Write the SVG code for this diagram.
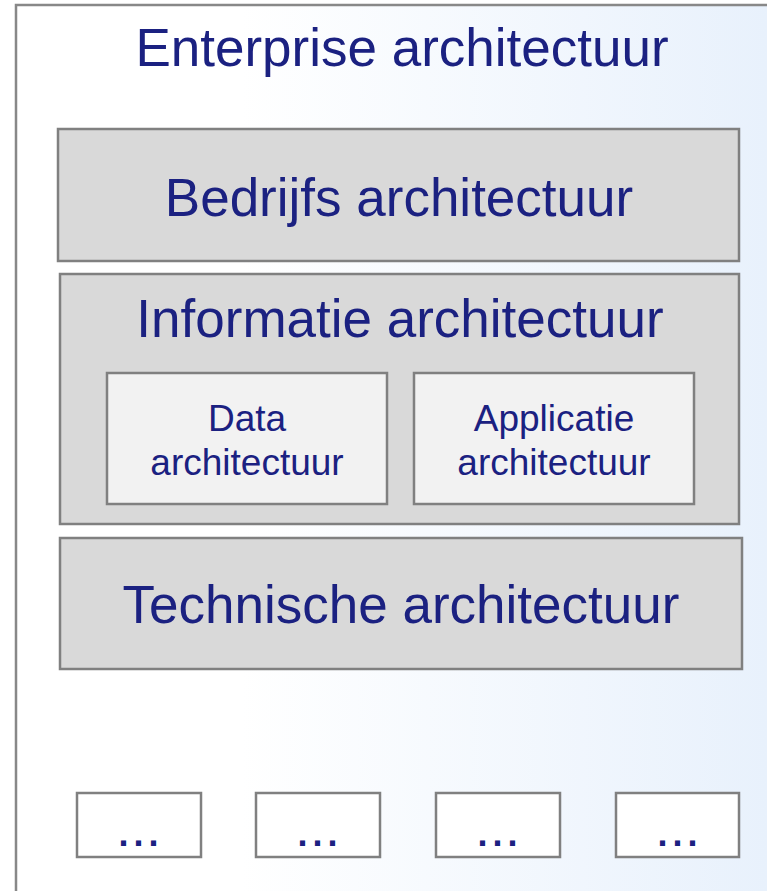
<svg xmlns="http://www.w3.org/2000/svg" width="767" height="891" viewBox="0 0 767 891">
<defs>
<linearGradient id="bg" x1="16" y1="0" x2="767" y2="0" gradientUnits="userSpaceOnUse">
<stop offset="0" stop-color="#ffffff"/>
<stop offset="0.3" stop-color="#ffffff"/>
<stop offset="1" stop-color="#e8f1fc"/>
</linearGradient>
<style>
.t{font-family:"Liberation Sans",Arial,sans-serif;fill:#1b2181;text-anchor:middle}
.big{font-size:53px}
.mid{font-size:37px}
.dots{font-size:36px;font-weight:bold;letter-spacing:5px}
.layer{fill:#d9d9d9;stroke:#808080;stroke-width:2.5}
.sub{fill:#f2f2f2;stroke:#808080;stroke-width:2.5}
.small{fill:#ffffff;stroke:#808080;stroke-width:2.5}
</style>
</defs>
<rect x="0" y="0" width="767" height="891" fill="#ffffff"/>
<g id="enterprise">
<rect x="16" y="5" width="770" height="900" fill="url(#bg)" stroke="#888888" stroke-width="2.5"/>
<text class="t big" x="402" y="66">Enterprise architectuur</text>
</g>
<g id="bedrijfs">
<rect class="layer" x="58" y="129" width="681" height="132"/>
<text class="t big" x="399" y="216">Bedrijfs architectuur</text>
</g>
<g id="informatie">
<rect class="layer" x="60" y="274" width="679" height="250"/>
<text class="t big" x="400" y="337">Informatie architectuur</text>
</g>
<g id="data">
<rect class="sub" x="107" y="373" width="280" height="131"/>
<text class="t mid" x="247" y="431">Data</text>
<text class="t mid" x="247" y="475">architectuur</text>
</g>
<g id="applicatie">
<rect class="sub" x="414" y="373" width="280" height="131"/>
<text class="t mid" x="554" y="431">Applicatie</text>
<text class="t mid" x="554" y="475">architectuur</text>
</g>
<g id="technische">
<rect class="layer" x="60" y="538" width="682" height="131"/>
<text class="t big" x="401" y="623">Technische architectuur</text>
</g>
<g id="box1">
<rect class="small" x="77" y="793" width="124" height="64"/>
<text class="t dots" x="141" y="846">...</text>
</g>
<g id="box2">
<rect class="small" x="256" y="793" width="124" height="64"/>
<text class="t dots" x="320" y="846">...</text>
</g>
<g id="box3">
<rect class="small" x="436" y="793" width="124" height="64"/>
<text class="t dots" x="500" y="846">...</text>
</g>
<g id="box4">
<rect class="small" x="616" y="793" width="123" height="64"/>
<text class="t dots" x="680" y="846">...</text>
</g>
<g id="connectors"></g>
</svg>
